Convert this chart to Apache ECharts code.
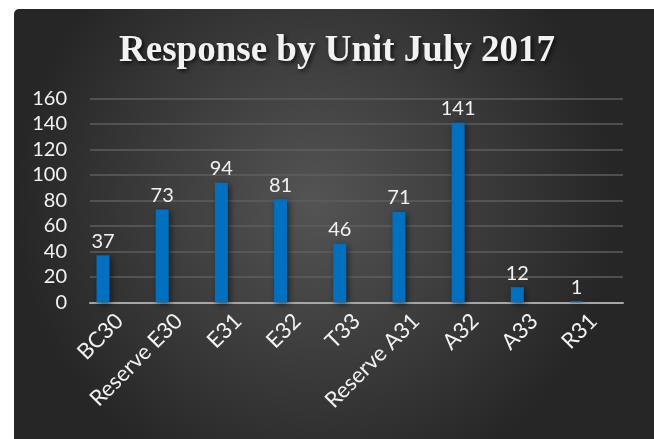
<!DOCTYPE html>
<html>
<head>
<meta charset="utf-8">
<style>
html,body{margin:0;padding:0;background:#ffffff;}
#chart{width:654px;height:439px;}
</style>
<script src="https://cdn.jsdelivr.net/npm/echarts@6/dist/echarts.min.js"></script>
</head>
<body>
<div id="chart"></div>
<script>
const titleText = 'Response by Unit July 2017';
const categories = ['BC30', 'Reserve E30', 'E31', 'E32', 'T33', 'Reserve A31', 'A32', 'A33', 'R31'];
const responses = [37, 73, 94, 81, 46, 71, 141, 12, 1];
const yMin = 0, yMax = 160, yStep = 20;

const chart = echarts.init(document.getElementById('chart'), null, {renderer: 'canvas'});
const labelFont = 'Lato';
const textColor = '#f2f2f2';

chart.setOption({
  animation: false,
  graphic: [{
    type: 'rect',
    z: -10,
    silent: true,
    shape: {x: 14, y: 9, width: 640, height: 430, r: [5, 0, 0, 0]},
    style: {
      fill: new echarts.graphic.RadialGradient(0.47, 0.45, 0.7, [
        {offset: 0, color: '#545454'},
        {offset: 1, color: '#262626'}
      ])
    }
  }],
  title: {
    text: titleText,
    left: 332,
    textAlign: 'center',
    top: 28,
    textStyle: {
      fontFamily: 'Liberation Serif',
      fontWeight: 'bold',
      fontSize: 37,
      color: '#f2f2f2',
      textShadowColor: 'rgba(0,0,0,0.75)',
      textShadowBlur: 4,
      textShadowOffsetX: 2,
      textShadowOffsetY: 2
    }
  },
  grid: [
    {left: 73.4, right: 47.9, top: 98.5, bottom: 136.5},
    {left: 90, right: 31, top: 98.5, bottom: 136.5}
  ],
  xAxis: [
    {
      type: 'category', gridIndex: 0, data: categories,
      axisLine: {show: false}, axisTick: {show: false}, axisLabel: {show: false}, splitLine: {show: false}
    },
    {
      type: 'category', gridIndex: 1, data: categories,
      axisLine: {show: true, lineStyle: {color: '#a6a6a6', width: 2}},
      axisTick: {show: false},
      axisLabel: {
        rotate: 45, margin: 15, interval: 0,
        fontFamily: labelFont, fontSize: 22, color: textColor
      }
    }
  ],
  yAxis: [
    {
      type: 'value', gridIndex: 0, min: yMin, max: yMax, interval: yStep,
      axisLine: {show: false}, axisTick: {show: false}, axisLabel: {show: false}, splitLine: {show: false}
    },
    {
      type: 'value', gridIndex: 1, min: yMin, max: yMax, interval: yStep,
      axisLine: {show: false}, axisTick: {show: false},
      axisLabel: {margin: 23, fontFamily: labelFont, fontSize: 20, color: textColor},
      splitLine: {show: true, lineStyle: {color: '#5e5e5e', width: 1.5}}
    }
  ],
  series: [{
    type: 'bar',
    xAxisIndex: 0, yAxisIndex: 0,
    data: responses,
    barWidth: 13,
    z: 5,
    itemStyle: {
      color: '#0070c0',
      shadowColor: 'rgba(0,0,0,0.55)',
      shadowBlur: 6,
      shadowOffsetX: 2,
      shadowOffsetY: 2
    },
    label: {
      show: true, position: 'top', distance: 4,
      fontFamily: labelFont, fontSize: 20, color: textColor
    }
  }]
});
</script>
</body>
</html>
